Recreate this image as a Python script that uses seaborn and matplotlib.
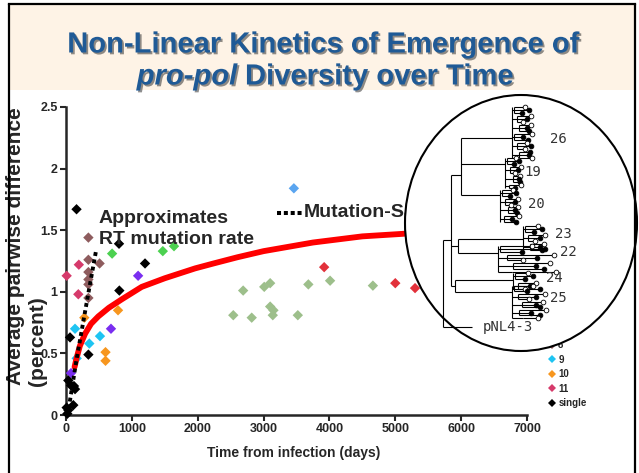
import numpy as np
import pandas as pd
import matplotlib
matplotlib.use("Agg")
import matplotlib.pyplot as plt
import seaborn as sns
from matplotlib.patches import Rectangle, Ellipse
from matplotlib.lines import Line2D
import matplotlib.patheffects as pe

# ---------------- data ----------------
s3_x = [2540, 2690, 2820, 3010, 3100, 3100, 3150, 3140, 3520, 3680, 4010, 4660]
s3_y = [0.81, 1.01, 0.79, 1.04, 1.07, 0.88, 0.85, 0.81, 0.81, 1.06, 1.09, 1.05]
s4_x = [3920, 5000, 5300]
s4_y = [1.20, 1.07, 1.03]
s5_x = [3460]
s5_y = [1.84]
s6_x = [700, 1470, 1640]
s6_y = [1.31, 1.33, 1.37]
s7_x = [76, 683, 1095]
s7_y = [0.34, 0.70, 1.13]
s8_x = [340, 340, 510, 340, 340, 340, 340]
s8_y = [1.44, 1.26, 1.23, 1.16, 1.10, 1.06, 0.95]
s9_x = [137, 516, 354, 162]
s9_y = [0.70, 0.64, 0.58, 0.46]
s10_x = [278, 790, 600, 600]
s10_y = [0.79, 0.85, 0.51, 0.44]
s11_x = [10, 195, 187]
s11_y = [1.13, 1.22, 0.98]
single_x = [160, 805, 1200, 810, 61, 340, 35, 76, 137, 121, 111, 35, 10, 20]
single_y = [1.67, 1.39, 1.23, 1.01, 0.63, 0.49, 0.28, 0.24, 0.21, 0.235, 0.08, 0.04, 0.06, 0.01]

series_order = ["3", "4", "5", "6", "7", "8", "9", "10", "11", "single"]
series_colors = ["#9DBF8B", "#E2313B", "#5AA5F0", "#4CD150", "#7A2EF0",
                 "#8E5C5E", "#1EC4F2", "#F7961E", "#D63A6B", "#000000"]
# legend entries not hidden behind the tree inset
legend_series = ["8", "9", "10", "11", "single"]

fit_x = [130, 160, 210, 290, 380, 490, 650, 850, 1150, 1500, 1960, 2240, 2600,
         3000, 3750, 4500, 5100, 5600]
fit_y = [0.39, 0.46, 0.56, 0.66, 0.74, 0.80, 0.87, 0.94, 1.04, 1.11, 1.19, 1.23, 1.28,
         1.33, 1.40, 1.45, 1.47, 1.49]

rt_x = [40, 160, 340, 455]
rt_y = [0.05, 0.45, 0.99, 1.33]

x_ticks = [0, 1000, 2000, 3000, 4000, 5000, 6000, 7000]
y_ticks = [0, 0.5, 1, 1.5, 2, 2.5]
y_tick_labels = ["0", "0.5", "1", "1.5", "2", "2.5"]

# ---------------- build table ----------------
xs = [s3_x, s4_x, s5_x, s6_x, s7_x, s8_x, s9_x, s10_x, s11_x, single_x]
ys = [s3_y, s4_y, s5_y, s6_y, s7_y, s8_y, s9_y, s10_y, s11_y, single_y]
frames = [pd.DataFrame({"days": x, "diff": y, "series": name})
          for name, x, y in zip(series_order, xs, ys)]
df = pd.concat(frames, ignore_index=True)
palette = dict(zip(series_order, series_colors))

sns.set_style("ticks")
plt.rcParams["font.family"] = ["Liberation Sans", "DejaVu Sans"]

W, H = 639, 473
fig = plt.figure(figsize=(W / 100, H / 100), dpi=100)
fig.patch.set_facecolor("white")

def F(x, y):
    return (x / W, 1 - y / H)

ax = fig.add_axes([66 / W, (H - 415) / H, 461 / W, 308 / H])
ax.set_facecolor("none")

sns.scatterplot(data=df, x="days", y="diff", hue="series", hue_order=series_order,
                palette=palette, marker="D", s=28, linewidth=0, ax=ax,
                clip_on=False, zorder=3)
sns.lineplot(x=fit_x, y=fit_y, color="#FF0000", lw=4.2, ax=ax, zorder=4,
             sort=False, estimator=None)
sns.lineplot(x=rt_x, y=rt_y, color="black", lw=2.8, ax=ax, zorder=5,
             sort=False, estimator=None, linestyle=(0, (1, 0.9)))

ax.set_xlim(0, 7000)
ax.set_ylim(0, 2.5)
ax.set_xticks(x_ticks)
ax.set_yticks(y_ticks)
ax.set_yticklabels(y_tick_labels)
ax.set_xlabel("")
ax.set_ylabel("")
sns.despine(ax=ax)
for sp in ["left", "bottom"]:
    ax.spines[sp].set_linewidth(1.8)
ax.tick_params(axis="both", direction="out", length=4, width=1.5, labelsize=9, pad=2)
for lab in ax.get_xticklabels() + ax.get_yticklabels():
    lab.set_fontweight("bold")

# legend
old = ax.get_legend()
pairs = [(h, t.get_text()) for h, t in zip(old.legend_handles, old.get_texts())
         if t.get_text() in legend_series]
old.remove()
leg = ax.legend([p[0] for p in pairs], [p[1] for p in pairs], loc="lower left",
                bbox_to_anchor=F(548, 408),
                bbox_transform=fig.transFigure, frameon=False,
                prop={"weight": "bold", "size": 7}, handlelength=0.8,
                handletextpad=0.25, labelspacing=0.46, borderpad=0,
                borderaxespad=0, markerscale=0.8)

# axis titles
fig.text(*F(294, 453), "Time from infection (days)", ha="center", va="center",
         fontsize=10, fontweight="bold")
fig.text(*F(16, 385), "Average pairwise difference", rotation=90, ha="center",
         va="bottom", fontsize=15, fontweight="bold")
fig.text(*F(38, 386), "(percent)", rotation=90, ha="center", va="bottom",
         fontsize=15, fontweight="bold")

# annotations
fig.text(*F(99, 223), "Approximates", ha="left", va="baseline", fontsize=14,
         fontweight="bold")
fig.text(*F(99, 244), "RT mutation rate", ha="left", va="baseline", fontsize=14,
         fontweight="bold")
fig.text(*F(304, 217), "Mutation-Saturation", ha="left", va="baseline",
         fontsize=14, fontweight="bold")
fig.add_artist(Line2D([277 / W, 302 / W], [1 - 213 / H, 1 - 213 / H],
                      transform=fig.transFigure, color="black", lw=2.9,
                      linestyle=(0, (1, 0.7))))

# ---------------- overlay: slide frame, title, tree inset ----------------
ov = fig.add_axes([0, 0, 1, 1], zorder=10)
ov.set_xlim(0, W)
ov.set_ylim(H, 0)
ov.axis("off")
ov.patch.set_alpha(0)

band = Rectangle((9, 4), 626, 86, facecolor="#FEF3E6", edgecolor="none", zorder=0)
ov.add_patch(band)

tc = "#1F5A96"
shadow = [pe.withSimplePatchShadow(offset=(1.3, -1.3), shadow_rgbFace="#333333", alpha=0.55)]
t1 = ov.text(323, 52.5, "Non-Linear Kinetics of Emergence of", ha="center",
             va="baseline", fontsize=21, fontweight="bold", color=tc,
             path_effects=shadow)
t2 = ov.text(237, 84.5, "pro-pol", ha="right", va="baseline", fontsize=21,
             fontweight="bold", style="italic", color=tc, path_effects=shadow)
t3 = ov.text(245, 84.5, "Diversity over Time", ha="left", va="baseline",
             fontsize=21, fontweight="bold", color=tc, path_effects=shadow)
for t in (t1, t2, t3):
    t.set_clip_path(band)

# frame lines
ov.plot([9, 635], [4, 4], color="black", lw=1.6, solid_capstyle="projecting")
ov.plot([9, 9], [4, 473], color="black", lw=1.6)
ov.plot([635, 635], [4, 473], color="black", lw=1.6)

# ellipse inset
ov.add_patch(Ellipse((521, 223), 232, 256, facecolor="white", edgecolor="black",
                     lw=1.5, zorder=1))

def seg(x0, y0, x1, y1, lw=0.8):
    ov.plot([x0, x1], [y0, y1], color="black", lw=lw, solid_capstyle="butt", zorder=2)

seg(443, 240, 443, 327)
seg(443, 327, 472, 327)
seg(443, 240, 451, 240)
seg(451, 175, 451, 286)
seg(451, 175, 461, 175)
seg(461, 138, 461, 195)
seg(461, 138, 512, 138)
seg(461, 164, 505, 164)
seg(461, 195, 500, 195)
seg(451, 246, 458, 246)
seg(458, 239, 458, 253)
seg(458, 239, 523, 239)
seg(458, 253, 498, 253)
seg(451, 286, 455, 286)
seg(455, 280, 455, 292)
seg(455, 280, 513, 280)
seg(455, 292, 512, 292)

pattern = [0.55, 0.8, 0.35, 0.95, 0.6, 0.3, 0.85, 0.5, 0.7, 1.0, 0.4, 0.75,
           0.6, 0.9, 0.45, 0.8, 0.65, 0.95]
faces = ["white", "black", "black", "white", "black", "white", "white", "black",
         "black", "white", "black", "black", "white", "black", "white", "black",
         "black", "white"]

def cluster(xa, ytop, ybot, xmax, n, shift=0.0):
    seg(xa, ytop, xa, ybot)
    step = (ybot - ytop) / (n - 1)
    yl = [ytop + i * step for i in range(n)]
    k = 0
    g = 0
    while k < n:
        grp = list(range(k, min(k + 3, n)))
        xsub = xa + 2 + 2.5 * (g % 3) + shift * g
        ymid = (yl[grp[0]] + yl[grp[-1]]) / 2
        seg(xa, ymid, xsub, ymid)
        seg(xsub, yl[grp[0]], xsub, yl[grp[-1]])
        for i in grp:
            xe = xsub + 3 + pattern[i % len(pattern)] * max(xmax - xsub - 3, 4)
            seg(xsub, yl[i], xe, yl[i])
            ov.plot([xe], [yl[i]], marker="o", ms=3.4, mfc=faces[i % len(faces)],
                    mec="black", mew=0.6, zorder=3)
        k += 3
        g += 1

cluster(512, 107, 158, 532, 18)
cluster(505, 158, 188, 521, 11, 0.5)
cluster(500, 190, 222, 519, 12, 0.5)
cluster(523, 226, 250, 546, 9)
cluster(498, 246, 272, 556, 10, 4)
cluster(513, 273, 289, 537, 6)
cluster(512, 286, 318, 546, 13, 1.5)

tree_labels = {"26": (550, 139), "19": (524, 172), "20": (528, 204),
               "23": (555, 234), "22": (560, 252), "24": (546, 278),
               "25": (550, 298), "pNL4-3": (483, 327)}
for lab, (lx, ly) in tree_labels.items():
    ov.text(lx, ly, lab, ha="left", va="center", fontsize=10,
            color="#333333", family="DejaVu Sans Mono", zorder=4)

fig.savefig("out.png", dpi=100)
